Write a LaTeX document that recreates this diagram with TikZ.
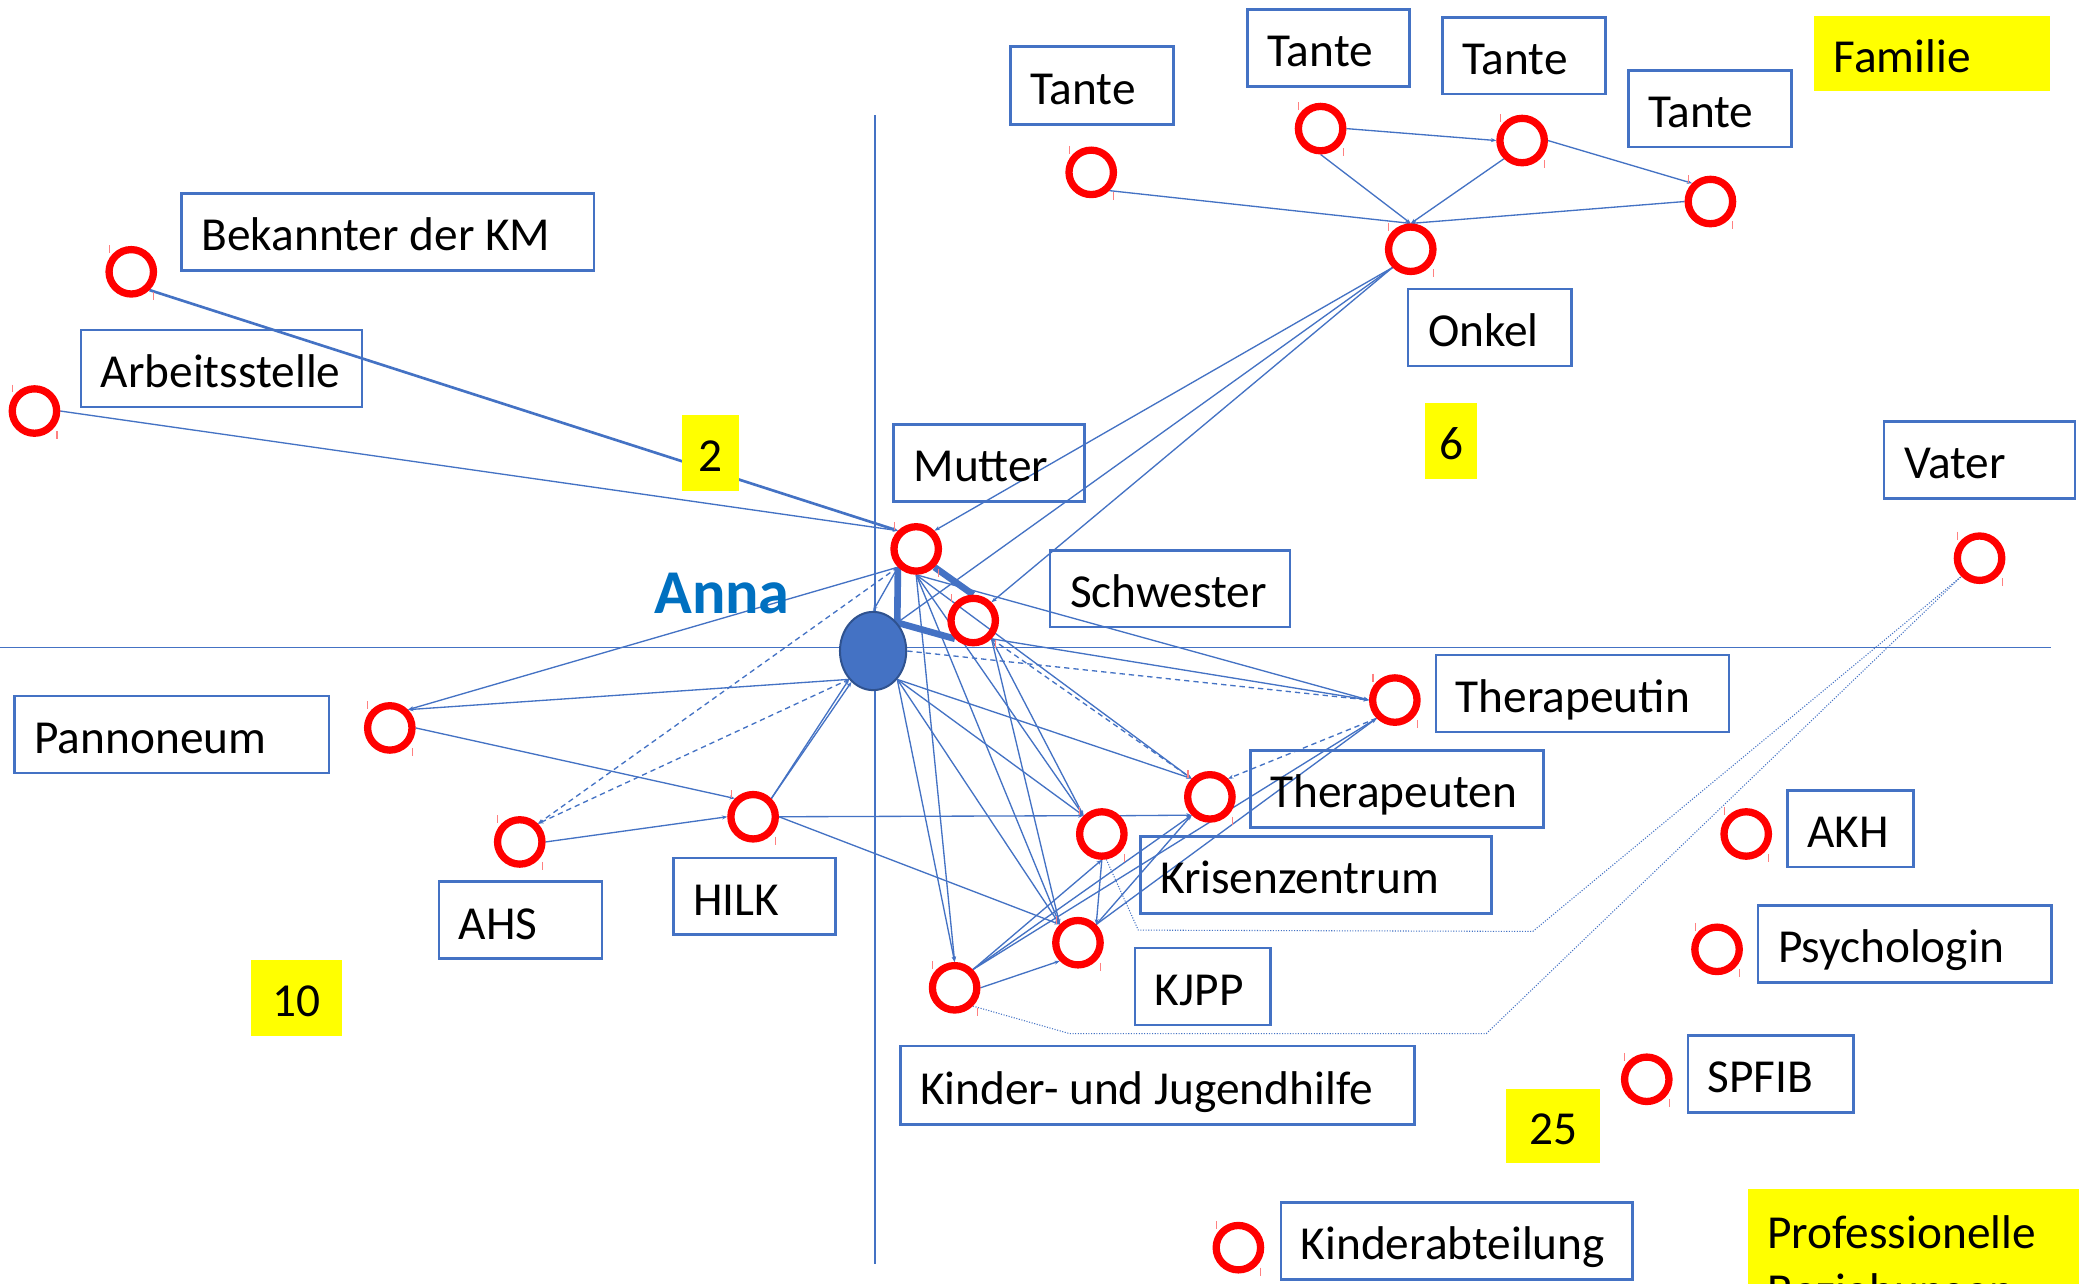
\documentclass[tikz,border=0pt]{standalone}
\usepackage{fontspec}
\setmainfont{Carlito}
\usetikzlibrary{shapes.geometric,arrows.meta}
\definecolor{lblue}{HTML}{4472C4}
\definecolor{annablue}{HTML}{0070C0}
\definecolor{annaedge}{HTML}{2F528F}
\definecolor{hlyellow}{HTML}{FFFF00}
\definecolor{tickred}{HTML}{FF8080}
\pgfdeclarelayer{background}
\pgfsetlayers{background,main}
\newcommand{\labelfont}{\fontsize{35.7pt}{43.5pt}\selectfont}
% left-set and centred text of a fixed width inside a box
\newcommand{\lt}[2]{\makebox[#1][l]{#2}}
\newcommand{\ct}[2]{\makebox[#1][c]{#2}}

\begin{document}
\begin{tikzpicture}[x=1pt,y=-1pt,
  person/.style={circle, draw=red, line width=5.5pt, minimum size=33.5pt, inner sep=0pt},
  tbox/.style={draw=lblue, line width=2pt, anchor=north west, inner xsep=15pt, inner ysep=0pt,
    outer sep=0pt, font=\labelfont, text height=28.5pt, text depth=0pt},
  hbox/.style={fill=hlyellow, anchor=north west, inner xsep=15pt, inner ysep=0pt,
    outer sep=0pt, font=\labelfont, text height=28.5pt, text depth=0pt},
  numbox/.style={hbox, inner xsep=0pt},
  profbox/.style={fill=hlyellow, anchor=north west, inner xsep=15pt, inner ysep=20pt,
    outer sep=0pt, align=left, font=\labelfont},
  axisline/.style={draw=lblue, line width=1pt},
  link/.style={draw=lblue, line width=1pt, -{Stealth[length=4pt,width=3pt]}},
  dashlink/.style={link, dash pattern=on 4pt off 3pt},
  strong/.style={draw=lblue, line width=5pt},
  medium/.style={link, line width=2pt},
  dotlink/.style={draw=lblue, line width=0.8pt, dash pattern=on 0.8pt off 1.2pt},
  tick/.style={draw=tickred, line width=0.8pt}
]
\useasboundingbox (0,0) rectangle (1568,968);
\begin{pgfonlayer}{background}
  \fill[white] (0,0) rectangle (1568,968);
\end{pgfonlayer}
\clip (0,0) rectangle (1568,968);

% labelled boxes
\node[tbox, minimum height=59pt] (tante1) at (762,35) {\lt{93pt}{Tante}};
\node[tbox, minimum height=58pt] (tante2) at (941,7) {\lt{92pt}{Tante}};
\node[tbox, minimum height=58pt] (tante3) at (1088,13) {\lt{93pt}{Tante}};
\node[tbox, minimum height=58pt] (tante4) at (1228,53) {\lt{93pt}{Tante}};
\node[hbox, minimum height=57pt] (familie) at (1368,12) {\lt{148pt}{Familie}};
\node[tbox, minimum height=58pt] (onkel) at (1062,218) {\lt{93pt}{Onkel}};
\node[tbox, minimum height=58pt] (bek) at (137,146) {\lt{281pt}{Bekannter der KM}};
\node[tbox, minimum height=58pt] (arb) at (61,249) {\lt{182pt}{Arbeitsstelle}};
\node[tbox, minimum height=58pt] (mutter) at (674,320) {\lt{114pt}{Mutter}};
\node[tbox, minimum height=58pt] (vater) at (1421,318) {\lt{114pt}{Vater}};
\node[tbox, minimum height=58pt] (schwester) at (792,415) {\lt{151pt}{Schwester}};
\node[tbox, minimum height=58pt] (therapeutin) at (1083,494) {\lt{191pt}{Therapeutin}};
\node[tbox, minimum height=58pt] (pann) at (11,525) {\lt{207pt}{Pannoneum}};
\node[tbox, minimum height=58pt] (therapeuten) at (943,566) {\lt{191pt}{Therapeuten}};
\node[tbox, minimum height=58pt] (krise) at (860,631) {\lt{235pt}{Krisenzentrum}};
\node[tbox, minimum height=58pt] (akh) at (1348,596) {\lt{65pt}{AKH}};
\node[tbox, minimum height=58pt] (ahs) at (331,665) {\lt{93pt}{AHS}};
\node[tbox, minimum height=58pt] (hilk) at (508,647) {\lt{92pt}{HILK}};
\node[tbox, minimum height=58pt] (psych) at (1326,683) {\lt{191pt}{Psychologin}};
\node[tbox, minimum height=58pt] (kjpp) at (856,715) {\lt{72pt}{KJPP}};
\node[tbox, minimum height=59pt] (kjh) at (679,789) {\lt{358pt}{Kinder- und Jugendhilfe}};
\node[tbox, minimum height=58pt] (spfib) at (1273,781) {\lt{95pt}{SPFIB}};
\node[tbox, minimum height=58pt] (kinder) at (966,907) {\lt{235pt}{Kinderabteilung}};
\node[profbox] (prof) at (1318,897) {\lt{220pt}{Professionelle}\\Beziehungen};

% persons and institutions
\node[person] (mutterC) at (691,414) {};
\node[person] (schwesterC) at (734,468) {};
\node[person] (bekC) at (99,205) {};
\node[person] (arbC) at (26,310) {};
\node[person] (tante1C) at (823,130) {};
\node[person] (tante2C) at (996,97) {};
\node[person] (tante3C) at (1148,106) {};
\node[person] (tante4C) at (1290,152) {};
\node[person] (onkelC) at (1064,188) {};
\node[person] (vaterC) at (1493,421) {};
\node[person] (therapeutinC) at (1052,528) {};
\node[person] (therapeutenC) at (912.5,601) {};
\node[person] (kriseC) at (831,629) {};
\node[person] (kjppC) at (813,711) {};
\node[person] (kjhC) at (720,745) {};
\node[person] (pannC) at (294,549) {};
\node[person] (ahsC) at (392,635) {};
\node[person] (hilkC) at (568,616) {};
\node[person] (akhC) at (1317,629) {};
\node[person] (psychC) at (1295,716) {};
\node[person] (spfibC) at (1242,814) {};
\node[person] (kinderC) at (934,941) {};

% the client
\node[ellipse, fill=lblue, draw=annaedge, line width=1.5pt, minimum width=50pt,
  minimum height=59pt, inner sep=0pt] (anna) at (658.5,491) {};
\node[font=\fontsize{47pt}{56pt}\selectfont\bfseries, text=annablue, anchor=base,
  inner sep=0pt] (annaLabel) at (544.5,463) {Anna};

% sector counts
\node[numbox, minimum height=57pt] (two) at (514,313) {\ct{43pt}{2}};
\node[numbox, minimum height=57pt] (six) at (1075,304) {\ct{39pt}{6}};
\node[numbox, minimum height=57pt] (ten) at (189,724) {\ct{69pt}{10}};
\node[numbox, minimum height=56pt] (twentyfive) at (1136,821) {\ct{71pt}{25}};

% selection marks of the circles
\foreach \n in {mutterC,schwesterC,bekC,arbC,tante1C,tante2C,tante3C,tante4C,onkelC,
  vaterC,therapeutinC,therapeutenC,kriseC,kjppC,kjhC,pannC,ahsC,hilkC,akhC,psychC,spfibC,kinderC}{
  \draw[tick] ([shift={(-16.5,-20)}]\n.center) -- ++(0,6);
  \draw[tick] ([shift={(17,15)}]\n.center) -- ++(0,6);
}

% axes and bends of the dotted lines
\coordinate (axL) at (0,488.5);
\coordinate (axR) at (1547,488.5);
\coordinate (axT) at (660,87);
\coordinate (axB) at (660,953);
\coordinate (kBend1) at (858.5,701.5);
\coordinate (kBend2) at (1156,702.5);
\coordinate (jBend1) at (806.5,779.5);
\coordinate (jBend2) at (1121,779.5);

\begin{pgfonlayer}{background}
  \draw[axisline] (axL) -- (axR);
  \draw[axisline] (axT) -- (axB);

  % family sector
  \draw[medium] (bekC.south east) -- (mutterC.north west);
  \draw[link] (arbC.east) -- (mutterC.north west);
  \draw[link] (tante1C.south east) -- (onkelC.north);
  \draw[link] (tante2C.east) -- (tante3C.west);
  \draw[link] (tante2C.south) -- (onkelC.north);
  \draw[link] (tante3C.south west) -- (onkelC.north);
  \draw[link] (tante3C.east) -- (tante4C.north west);
  \draw[link] (tante4C.west) -- (onkelC.north);
  \draw[link] (onkelC.south west) -- (mutterC.north east);
  \draw[link] (onkelC.south west) -- (anna.north east);
  \draw[link] (onkelC.south west) -- (schwesterC.north east);
  \draw[strong] (mutterC.south west) -- (anna.north east);
  \draw[strong] (mutterC.south east) -- (schwesterC.north);
  \draw[strong] (anna.north east) -- (schwesterC.south west);
  \draw[link] (mutterC.south west) -- (anna.north);

  % school and leisure sector
  \draw[link] (mutterC.south west) -- (pannC.north east);
  \draw[link] (anna.south west) -- (pannC.north east);
  \draw[link] (pannC.east) -- (hilkC.north west);
  \draw[dashlink] (mutterC.south west) -- (ahsC.north east);
  \draw[dashlink] (anna.south west) -- (ahsC.north east);
  \draw[link] (ahsC.east) -- (hilkC.west);
  \draw[link] (hilkC.north east) -- (anna.south west);
  \draw[link] (hilkC.north east) -- (anna.235);
  \draw[link] (hilkC.east) -- (kriseC.north west);
  \draw[link] (hilkC.east) -- (kjppC.north west);

  % professional sector
  \draw[link] (mutterC.south) -- (therapeutinC.west);
  \draw[link] (schwesterC.south east) -- (therapeutinC.west);
  \draw[dashlink] (anna.east) -- (therapeutinC.west);
  \draw[link] (anna.south east) -- (therapeutenC.north west);
  \draw[link] (mutterC.south) -- (therapeutenC.north west);
  \draw[dashlink] (schwesterC.south east) -- (therapeutenC.north west);
  \draw[link] (anna.south east) -- (kriseC.north west);
  \draw[link] (mutterC.south) -- (kriseC.north west);
  \draw[link] (schwesterC.south east) -- (kriseC.north west);
  \draw[link] (anna.south east) -- (kjppC.north west);
  \draw[link] (mutterC.south) -- (kjppC.north west);
  \draw[link] (schwesterC.south east) -- (kjppC.north west);
  \draw[link] (anna.south east) -- (kjhC.north);
  \draw[link] (mutterC.south) -- (kjhC.north);
  \draw[link] (kriseC.north east) -- (therapeutenC.south west);
  \draw[link] (kriseC.south) -- (kjppC.north east);
  \draw[link] (kjhC.east) -- (kjppC.south west);
  \draw[link] (kjhC.north east) -- (kriseC.south);
  \draw[link] (kjhC.north east) -- (therapeutenC.south west);
  \draw[link] (kjhC.north east) -- (therapeutinC.south west);
  \draw[link] (kjppC.north east) -- (therapeutenC.south west);
  \draw[link] (kjppC.north east) -- (therapeutinC.south west);
  \draw[dashlink] (therapeutinC.south west) -- (therapeutenC.north east);

  % father, reached through the services
  \draw[dotlink] (kriseC.-80) -- (kBend1) -- (kBend2) -- (vaterC.south west);
  \draw[dotlink] (kjhC.south east) -- (jBend1) -- (jBend2) -- (vaterC.south west);
\end{pgfonlayer}
\end{tikzpicture}
\end{document}
